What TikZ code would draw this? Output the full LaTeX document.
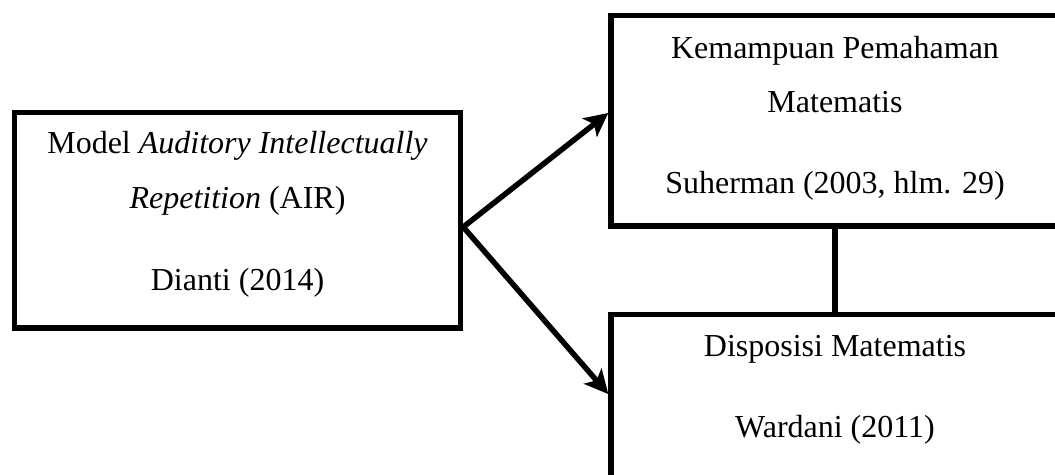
\documentclass[tikz,border=0pt]{standalone}
\usepackage{fontspec}
\setmainfont{Liberation Serif}
\usetikzlibrary{arrows.meta}
\begin{document}
\begin{tikzpicture}[x=1pt,y=-1pt,
  box/.style={draw=black, line width=5.5pt, rectangle, inner sep=0pt},
  lbl/.style={anchor=base, inner sep=0pt, font=\fontsize{32}{38}\selectfont},
  conn/.style={line width=5.5pt},
  arr/.style={conn, -{Stealth[length=24pt,width=24pt,inset=6pt,line width=0pt]}}]
\useasboundingbox (0,0) rectangle (1055,474);
\clip (0,0) rectangle (1055,474);
\node[box, minimum width=446pt, minimum height=215.5pt] (L) at (237.5,220.25) {};
\node[box, minimum width=448pt, minimum height=210.5pt] (T) at (835,120.75) {};
\node[box, minimum width=448pt, minimum height=195.5pt] (B) at (835,412.25) {};
\node[lbl] (l1) at (237.5,153) {Model \textit{Auditory Intellectually}};
\node[lbl] (l2) at (237.5,208) {\textit{Repetition} (AIR)};
\node[lbl] (l3) at (237.5,290) {Dianti (2014)};
\node[lbl] (t1) at (835,58) {Kemampuan Pemahaman};
\node[lbl] (t2) at (835,112) {Matematis};
\node[lbl] (t3) at (835,193) {Suherman (2003, hlm. 29)};
\node[lbl] (b1) at (835,356) {Disposisi Matematis};
\node[lbl] (b2) at (835,437) {Wardani (2011)};
\coordinate (s) at (L.east |- 0,227);
\coordinate (te) at (T.west |- 0,113);
\coordinate (be) at (B.west |- 0,394);
\draw[arr] (s) -- (te);
\draw[arr] (s) -- (be);
\draw[conn] (T.south) -- (B.north);
\end{tikzpicture}
\end{document}
